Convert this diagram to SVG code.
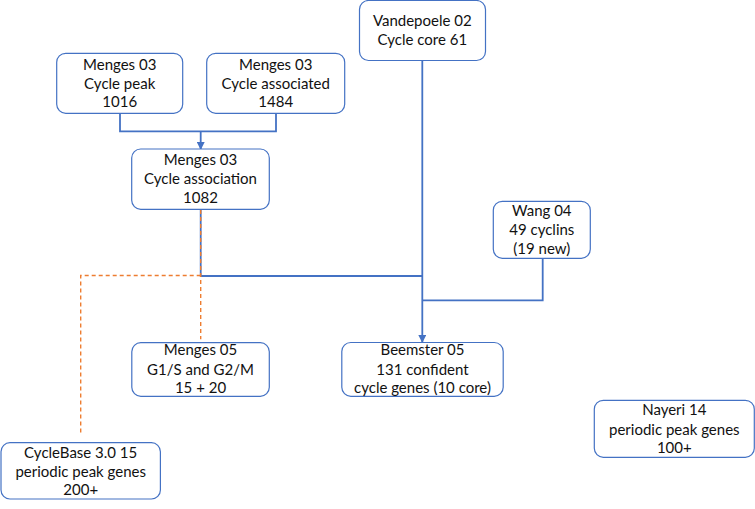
<svg xmlns="http://www.w3.org/2000/svg" width="755" height="509" viewBox="0 0 755 509">
<style>
.box{fill:#ffffff;stroke:#4472C4;stroke-width:1.2}
.t{font-family:Lato,"Open Sans","Liberation Sans",sans-serif;font-size:15px;fill:#111111;text-anchor:middle}
.c{fill:none;stroke:#4472C4;stroke-width:1.8}
.d{fill:none;stroke:#ED7D31;stroke-width:1.4;stroke-dasharray:4 3}
</style>
<defs>
<marker id="ah" markerWidth="8" markerHeight="8" refX="7" refY="4" orient="auto" markerUnits="userSpaceOnUse">
<path d="M0,0 L8,4 L0,8 Z" fill="#4472C4"/>
</marker>
</defs>
<rect width="755" height="509" fill="#ffffff"/>
<g id="connectors">
<path class="c" d="M120,113.3 V131.3 H276 V113.3"/>
<path class="c" d="M200.7,131.3 V149" marker-end="url(#ah)"/>
<path class="c" d="M200.7,209.3 V276 H422.3"/>
<path class="c" d="M422.3,60.3 V342" marker-end="url(#ah)"/>
<path class="c" d="M542.7,258.3 V300.3 H422.3"/>
<path class="d" d="M200.7,210 V339.3"/>
<path class="d" d="M200.7,275.5 H80.7 V435"/>
</g>
<g id="vandepoele">
<rect class="box" x="359.5" y="0.5" width="126" height="60" rx="9"/>
<text class="t" x="422.3" y="26">Vandepoele 02</text>
<text class="t" x="422.3" y="45">Cycle core 61</text>
</g>
<g id="menges-peak">
<rect class="box" x="56.7" y="53.3" width="126" height="60" rx="9"/>
<text class="t" x="119.7" y="70">Menges 03</text>
<text class="t" x="119.7" y="88.7">Cycle peak</text>
<text class="t" x="119.7" y="107.3">1016</text>
</g>
<g id="menges-associated">
<rect class="box" x="206.7" y="53.3" width="138" height="60" rx="9"/>
<text class="t" x="275.7" y="70">Menges 03</text>
<text class="t" x="275.7" y="88.7">Cycle associated</text>
<text class="t" x="275.7" y="107.3">1484</text>
</g>
<g id="menges-association">
<rect class="box" x="131.7" y="149" width="137.6" height="60.3" rx="9"/>
<text class="t" x="200.5" y="165.3">Menges 03</text>
<text class="t" x="200.5" y="184">Cycle association</text>
<text class="t" x="200.5" y="202.6">1082</text>
</g>
<g id="wang">
<rect class="box" x="493.3" y="201.3" width="97" height="57" rx="9"/>
<text class="t" x="541.8" y="216.3">Wang 04</text>
<text class="t" x="541.8" y="235.3">49 cyclins</text>
<text class="t" x="541.8" y="254.3">(19 new)</text>
</g>
<g id="menges05">
<rect class="box" x="131.8" y="342.7" width="137.5" height="53.6" rx="9"/>
<text class="t" x="200.5" y="355.3">Menges 05</text>
<text class="t" x="200.5" y="374.5">G1/S and G2/M</text>
<text class="t" x="200.5" y="393.3">15 + 20</text>
</g>
<g id="beemster">
<rect class="box" x="341.8" y="342.5" width="161.4" height="53.8" rx="9"/>
<text class="t" x="422.5" y="355.3">Beemster 05</text>
<text class="t" x="422.5" y="374.5">131 confident</text>
<text class="t" x="422.5" y="393.3">cycle genes (10 core)</text>
</g>
<g id="nayeri">
<rect class="box" x="594.3" y="400.3" width="160" height="57" rx="9"/>
<text class="t" x="674.3" y="415.3">Nayeri 14</text>
<text class="t" x="674.3" y="434.6">periodic peak genes</text>
<text class="t" x="674.3" y="453">100+</text>
</g>
<g id="cyclebase">
<rect class="box" x="1" y="442.7" width="159.4" height="56.3" rx="9"/>
<text class="t" x="80.7" y="457.6">CycleBase 3.0 15</text>
<text class="t" x="80.7" y="477">periodic peak genes</text>
<text class="t" x="80.7" y="495.3">200+</text>
</g>
</svg>
